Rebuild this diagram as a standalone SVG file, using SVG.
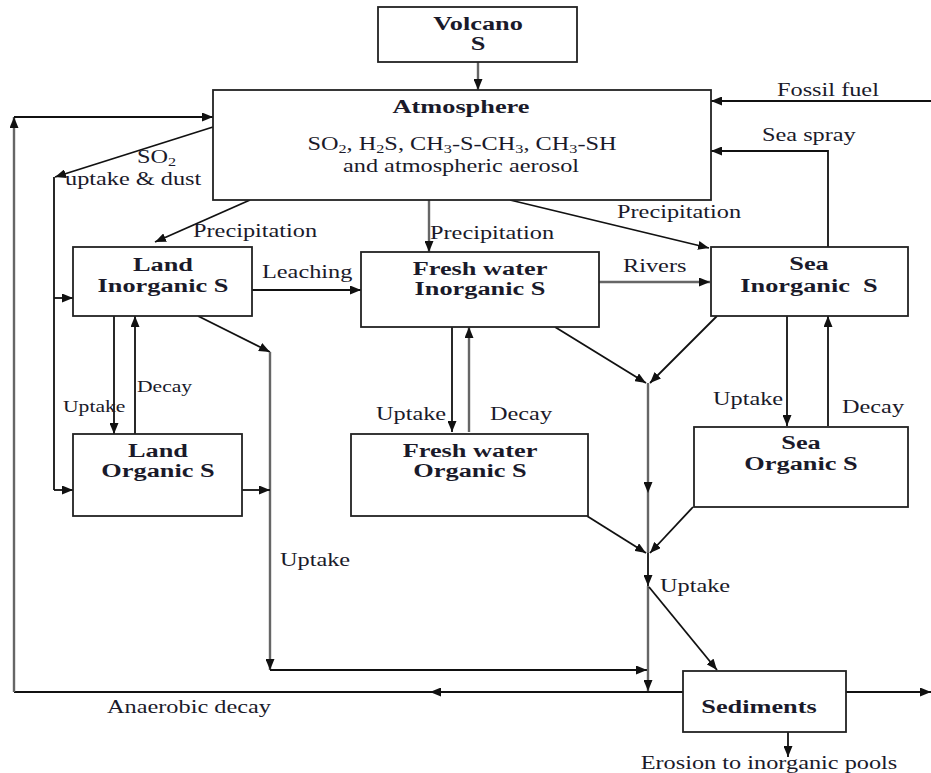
<svg xmlns="http://www.w3.org/2000/svg" width="931" height="773" viewBox="0 0 931 773">
<style>
  .box { fill: #fff; stroke: #222; stroke-width: 1.8; }
  .ln { fill: none; stroke: #111; stroke-width: 1.8; }
  .gl { fill: none; stroke: #666; stroke-width: 2.4; }
  .a { marker-end: url(#ah); }
  text { font-family: "Liberation Serif", "Times New Roman", serif; fill: #1a1a2a; }
  .b { font-weight: bold; font-size: 19.5px; text-anchor: middle; }
  .r { font-size: 18px; }
  .s { font-size: 16px; }
  .m { text-anchor: middle; }
  .sub { font-size: 12px; }
</style>
<defs>
  <marker id="ah" viewBox="0 0 11 9" refX="11" refY="4.5" markerWidth="11" markerHeight="9" markerUnits="userSpaceOnUse" orient="auto">
    <path d="M0,0 L11,4.5 L0,9 z" fill="#111"/>
  </marker>
</defs>

<g id="connectors">
  <line class="gl a" x1="478" y1="62" x2="478" y2="90"/>
  <line class="ln a" x1="931" y1="101" x2="711" y2="101"/>
  <polyline class="ln a" points="828,247 828,151 711,151"/>
  <line class="ln a" x1="683" y1="692" x2="430" y2="692"/>
  <line class="ln" x1="432" y1="692" x2="14" y2="692"/>
  <line class="gl a" x1="14" y1="692" x2="14" y2="117"/>
  <line class="ln a" x1="14" y1="117" x2="213" y2="117"/>
  <line class="ln a" x1="846" y1="692" x2="931" y2="692"/>
  <line class="ln a" x1="213" y1="127" x2="55" y2="177"/>
  <line class="ln" x1="54" y1="177" x2="54" y2="490"/>
  <line class="ln a" x1="54" y1="298" x2="73" y2="298"/>
  <line class="ln a" x1="54" y1="490" x2="73" y2="490"/>
  <line class="ln a" x1="250" y1="200" x2="155" y2="242"/>
  <line class="gl a" x1="429" y1="200" x2="429" y2="252"/>
  <line class="ln a" x1="510" y1="200" x2="709" y2="248"/>
  <line class="ln a" x1="252" y1="290" x2="361" y2="290"/>
  <line class="gl a" x1="599" y1="282" x2="710" y2="282"/>
  <line class="ln a" x1="114" y1="316" x2="114" y2="434"/>
  <line class="ln a" x1="135" y1="434" x2="135" y2="316"/>
  <line class="ln a" x1="198" y1="316" x2="270" y2="352"/>
  <line class="gl a" x1="270" y1="352" x2="270" y2="670"/>
  <line class="ln a" x1="242" y1="490" x2="270" y2="490"/>
  <line class="ln a" x1="270" y1="670" x2="647" y2="670"/>
  <line class="ln a" x1="452" y1="327" x2="452" y2="432"/>
  <line class="gl a" x1="469" y1="432" x2="469" y2="327"/>
  <line class="ln a" x1="787" y1="316" x2="787" y2="426"/>
  <line class="ln a" x1="828" y1="426" x2="828" y2="316"/>
  <line class="ln a" x1="555" y1="327" x2="646" y2="383"/>
  <line class="ln a" x1="717" y1="316" x2="650" y2="383"/>
  <line class="gl a" x1="648" y1="383" x2="648" y2="493"/>
  <line class="gl" x1="648" y1="493" x2="648" y2="553"/>
  <line class="ln a" x1="587" y1="516" x2="646" y2="553"/>
  <line class="ln a" x1="693" y1="507" x2="650" y2="553"/>
  <line class="ln a" x1="648" y1="553" x2="648" y2="586"/>
  <line class="gl a" x1="648" y1="586" x2="648" y2="691"/>
  <line class="ln a" x1="649" y1="587" x2="717" y2="670"/>
  <line class="ln a" x1="788" y1="732" x2="788" y2="757"/>
</g>

<g id="volcano">
  <rect class="box" x="378" y="7" width="199" height="55"/>
  <text class="b" transform="translate(478,30) scale(1.35,1)">Volcano</text>
  <text class="b" transform="translate(478,50) scale(1.35,1)">S</text>
</g>

<g id="atmosphere">
  <rect class="box" x="213" y="90" width="498" height="110"/>
  <text class="b" transform="translate(461,113) scale(1.35,1)">Atmosphere</text>
  <text class="r m" transform="translate(462,150) scale(1.35,1)">SO<tspan class="sub" dy="3">2</tspan><tspan dy="-3">, H</tspan><tspan class="sub" dy="3">2</tspan><tspan dy="-3">S, CH</tspan><tspan class="sub" dy="3">3</tspan><tspan dy="-3">-S-CH</tspan><tspan class="sub" dy="3">3</tspan><tspan dy="-3">, CH</tspan><tspan class="sub" dy="3">3</tspan><tspan dy="-3">-SH</tspan></text>
  <text class="r m" transform="translate(461,172) scale(1.35,1)">and atmospheric aerosol</text>
</g>

<g id="land-inorganic">
  <rect class="box" x="73" y="247" width="179" height="69"/>
  <text class="b" transform="translate(163,271) scale(1.35,1)">Land</text>
  <text class="b" transform="translate(163,292) scale(1.35,1)">Inorganic S</text>
</g>

<g id="fresh-inorganic">
  <rect class="box" x="361" y="252" width="238" height="75"/>
  <text class="b" transform="translate(480,275) scale(1.35,1)">Fresh water</text>
  <text class="b" transform="translate(480,295) scale(1.35,1)">Inorganic S</text>
</g>

<g id="sea-inorganic">
  <rect class="box" x="711" y="247" width="197" height="69"/>
  <text class="b" transform="translate(809,270) scale(1.35,1)" xml:space="preserve">Sea</text>
  <text class="b" transform="translate(809,292) scale(1.35,1)" xml:space="preserve">Inorganic  S</text>
</g>

<g id="land-organic">
  <rect class="box" x="73" y="434" width="169" height="82"/>
  <text class="b" transform="translate(158,457) scale(1.35,1)">Land</text>
  <text class="b" transform="translate(158,477) scale(1.35,1)">Organic S</text>
</g>

<g id="fresh-organic">
  <rect class="box" x="351" y="434" width="237" height="82"/>
  <text class="b" transform="translate(470,457) scale(1.35,1)">Fresh water</text>
  <text class="b" transform="translate(470,477) scale(1.35,1)">Organic S</text>
</g>

<g id="sea-organic">
  <rect class="box" x="694" y="427" width="214" height="80"/>
  <text class="b" transform="translate(801,449) scale(1.35,1)">Sea</text>
  <text class="b" transform="translate(801,470) scale(1.35,1)">Organic S</text>
</g>

<g id="sediments">
  <rect class="box" x="683" y="671" width="163" height="61"/>
  <text class="b" transform="translate(759,713) scale(1.35,1)">Sediments</text>
</g>

<g id="labels">
  <text class="r" transform="translate(777,96) scale(1.35,1)">Fossil fuel</text>
  <text class="r" transform="translate(762,141) scale(1.35,1)">Sea spray</text>
  <text class="r" transform="translate(137,163) scale(1.35,1)">SO<tspan class="sub" dy="3">2</tspan></text>
  <text class="r" transform="translate(65,185) scale(1.35,1)">uptake &amp; dust</text>
  <text class="r" transform="translate(193,237) scale(1.35,1)">Precipitation</text>
  <text class="r" transform="translate(430,239) scale(1.35,1)">Precipitation</text>
  <text class="r" transform="translate(617,218) scale(1.35,1)">Precipitation</text>
  <text class="r" transform="translate(262,278) scale(1.35,1)">Leaching</text>
  <text class="r" transform="translate(623,272) scale(1.35,1)">Rivers</text>
  <text class="s" transform="translate(63,412) scale(1.35,1)">Uptake</text>
  <text class="s" transform="translate(137,392) scale(1.35,1)">Decay</text>
  <text class="r" transform="translate(376,420) scale(1.35,1)">Uptake</text>
  <text class="r" transform="translate(490,420) scale(1.35,1)">Decay</text>
  <text class="r" transform="translate(713,405) scale(1.35,1)">Uptake</text>
  <text class="r" transform="translate(842,413) scale(1.35,1)">Decay</text>
  <text class="r" transform="translate(280,566) scale(1.35,1)">Uptake</text>
  <text class="r" transform="translate(660,592) scale(1.35,1)">Uptake</text>
  <text class="r" transform="translate(107,713) scale(1.35,1)">Anaerobic decay</text>
  <text class="r m" transform="translate(769,769) scale(1.35,1)">Erosion to inorganic pools</text>
</g>
</svg>
